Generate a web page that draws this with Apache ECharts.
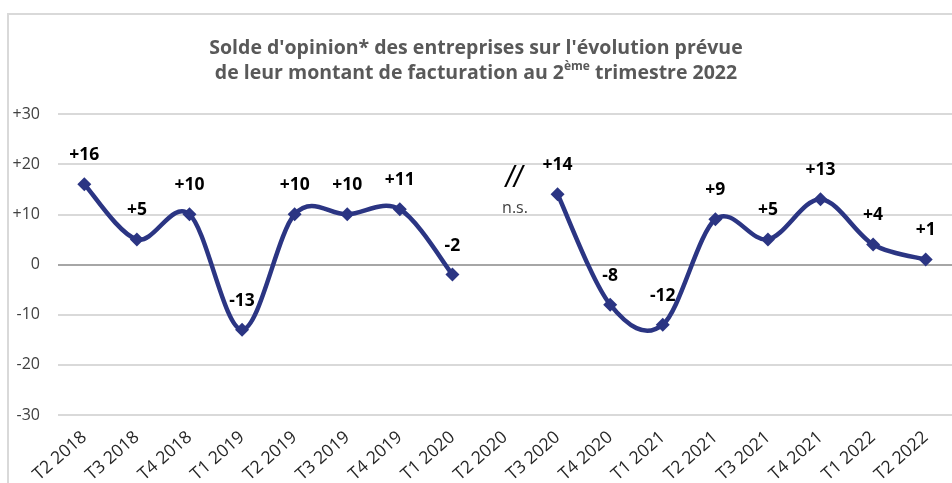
<!DOCTYPE html>
<html><head><meta charset="utf-8">
<script src="https://cdn.jsdelivr.net/npm/echarts@6/dist/echarts.min.js"></script>
<style>html,body{margin:0;padding:0;background:#fff}#c{width:952px;height:483px}</style>
</head><body><div id="c"></div>
<script>
const categories = ['T2 2018','T3 2018','T4 2018','T1 2019','T2 2019','T3 2019','T4 2019','T1 2020','T2 2020','T3 2020','T4 2020','T1 2021','T2 2021','T3 2021','T4 2021','T1 2022','T2 2022'];
const values = [16,5,10,-13,10,10,11,-2,null,14,-8,-12,9,5,13,4,1];
const yTicks = [-30,-20,-10,0,10,20,30];
const gapCategory = 'T2 2020';
const gapMarkY = [17, 11];

const LINE = '#2b3583';
const chart = echarts.init(document.getElementById('c'));
const fmt = v => v > 0 ? '+' + v : String(v);

function renderSeg(params, api) {
  const i = params.dataIndex;
  if (values[i] == null || i + 1 >= values.length || values[i + 1] == null) return;
  const pt = k => api.coord([k, values[k]]);
  const p1 = pt(i), p2 = pt(i + 1);
  const p0 = (i - 1 >= 0 && values[i - 1] != null) ? pt(i - 1) : p1;
  const p3 = (i + 2 < values.length && values[i + 2] != null) ? pt(i + 2) : p2;
  const c1 = [p1[0] + (p2[0] - p0[0]) / 6, p1[1] + (p2[1] - p0[1]) / 6];
  const c2 = [p2[0] - (p3[0] - p1[0]) / 6, p2[1] - (p3[1] - p1[1]) / 6];
  return {type:'bezierCurve', shape:{x1:p1[0],y1:p1[1],x2:p2[0],y2:p2[1],cpx1:c1[0],cpy1:c1[1],cpx2:c2[0],cpy2:c2[1]},
    style:{stroke:LINE, lineWidth:4.5, fill:null, lineCap:'round'}};
}

chart.setOption({
  animation: false,
  title: {
    text: "Solde d'opinion* des entreprises sur l'évolution prévue\nde leur montant de facturation au 2{sup|ème} trimestre 2022",
    left: 'center', top: 31,
    textStyle: {fontFamily:'"Open Sans",sans-serif', fontSize:19.5, fontWeight:'bold', color:'#595959', lineHeight:25,
      rich:{sup:{fontSize:12, fontWeight:'bold', color:'#595959', verticalAlign:'top', padding:[0,0,9,0], fontFamily:'"Open Sans",sans-serif'}}}
  },
  grid: {left:58, right:0, top:114, bottom:68, containLabel:false, outerBoundsMode:'none'},
  xAxis: {
    type:'category', data:categories, boundaryGap:true,
    axisLine:{show:false}, axisTick:{show:false},
    axisLabel:{rotate:41, fontSize:17.5, color:'#262626', fontFamily:'"Open Sans","Noto Sans",sans-serif', margin:20, interval:0}
  },
  yAxis: {
    type:'value', min:-30, max:30, interval:10,
    axisLine:{show:false}, axisTick:{show:false},
    axisLabel:{formatter: v => yTicks.includes(v) ? fmt(v) : '', fontSize:16, color:'#404040', fontFamily:'"Open Sans","Noto Sans",sans-serif', margin:18},
    splitLine:{lineStyle:{color:'#d9d9d9', width:2}}
  },
  series: [{
    type:'custom', data: values.map((v, i) => [i, v]), renderItem: renderSeg, z:2, silent:true,
    markLine:{silent:true, symbol:['none','none'], label:{show:false}, lineStyle:{color:'#a6a6a6', width:2, type:'solid'}, data:[{yAxis:0}], z:1}
  }, {
    type:'line', data:values, connectNulls:false,
    symbol:'diamond', symbolSize:14,
    lineStyle:{width:0, opacity:0},
    itemStyle:{color:LINE},
    label:{show:true, position:'top', distance:13, formatter:p => fmt(p.value), fontSize:17.5, fontWeight:'bold', color:'#000', fontFamily:'"Open Sans","Noto Sans",sans-serif'},
    z:3
  }]
});

const pA = chart.convertToPixel({xAxisIndex:0, yAxisIndex:0}, [gapCategory, gapMarkY[0]]);
const pB = chart.convertToPixel({xAxisIndex:0, yAxisIndex:0}, [gapCategory, gapMarkY[1]]);
chart.setOption({graphic: [
  {type:'rect', shape:{x:8,y:14,width:1000,height:600}, style:{fill:'none', stroke:'#d9d9d9', lineWidth:2}, silent:true},
  {type:'text', x:pA[0] + 9, y:pA[1] - 1, style:{text:'//', fill:'#000', align:'center', verticalAlign:'middle', font:'italic 30px "Liberation Sans",sans-serif'}},
  {type:'text', x:pB[0] + 10, y:pB[1] - 1, style:{text:'n.s.', fontSize:16, fill:'#404040', align:'center', verticalAlign:'middle', fontFamily:'"Open Sans",sans-serif'}}
]});
</script></body></html>
